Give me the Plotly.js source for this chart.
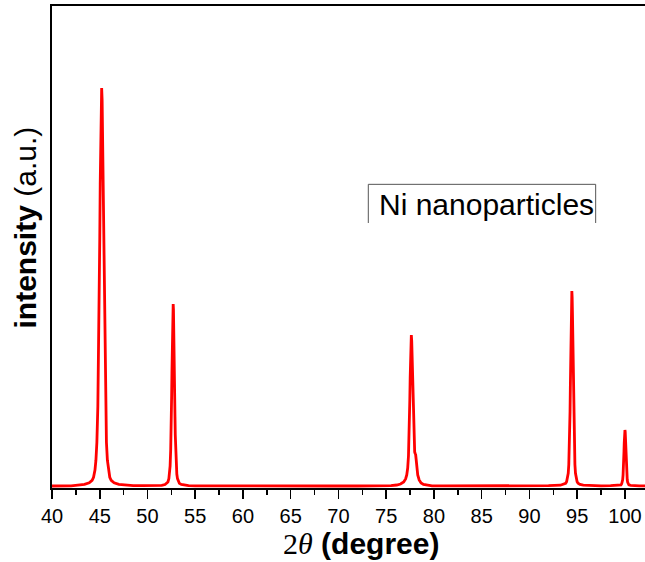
<!DOCTYPE html>
<html>
<head>
<meta charset="utf-8">
<script src="https://cdn.plot.ly/plotly-3.0.1.min.js"></script>
<style>html,body{margin:0;padding:0;background:#fff;}#chart{width:645px;height:562px;}</style>
</head>
<body>
<div id="chart"></div>
<script>
// 2-theta (degree) positions
const twoTheta = [
  40, 41, 42, 42.7, 43.4, 43.9, 44.2, 44.35, 44.5, 44.6, 44.7, 44.8, 44.85, 44.9, 44.95, 45.0, 45.05, 45.1, 45.15, 45.2,
  45.25, 45.3, 45.35, 45.4, 45.45, 45.5, 45.55, 45.6, 45.7, 45.8, 45.9, 46.05, 46.2, 46.5, 47.0, 47.7,
  48.5, 49.5, 50.5, 51.49, 51.84, 52.04, 52.14, 52.24, 52.31, 52.37, 52.43, 52.47, 52.5, 52.53, 52.56, 52.59, 52.625, 52.66, 52.69,
  52.72, 52.755, 52.79, 52.82, 52.85, 52.88, 52.91, 52.95, 53.01, 53.07, 53.14, 53.24, 53.34, 53.54, 53.89, 54.3,
  55, 57, 60, 63, 66, 69, 72, 74, 75.5, 76.1, 76.5, 76.83, 77.03, 77.15, 77.25, 77.33, 77.38, 77.43, 77.47, 77.51, 77.55, 77.59, 77.63,
  77.67, 77.71, 77.75, 77.79, 77.83, 77.88, 77.93, 77.98, 78.03, 78.08, 78.13, 78.2, 78.3, 78.45, 78.65, 78.9, 79.3, 79.8,
  81, 84, 87, 90, 92, 93.24, 93.59, 93.79, 93.89, 93.99, 94.06, 94.12, 94.18, 94.22, 94.25, 94.28, 94.31, 94.34, 94.375, 94.41, 94.44,
  94.47, 94.505, 94.54, 94.57, 94.6, 94.63, 94.66, 94.7, 94.76, 94.82, 94.89, 94.99, 95.09, 95.29, 95.64,
  96.5, 97.5, 98.5, 99.2, 99.51, 99.59, 99.66, 99.715, 99.76, 99.805, 99.835, 99.86, 99.88, 99.9, 99.925, 99.95, 99.975, 100.0,
  100.025, 100.05, 100.075, 100.1, 100.12, 100.14, 100.165, 100.195, 100.24, 100.285, 100.34, 100.41, 100.6, 101.0, 101.5, 102.1
];
// intensity (a.u.)
const intensity = [
  20, 19, 21, 28, 36, 52, 76, 107, 179, 278, 457, 815, 1130, 1530, 2005, 2480, 3040, 3510, 3880, 4000,
  3880, 3510, 3040, 2480, 2005, 1530, 1130, 815, 457, 278, 179, 107, 76, 52, 36, 28,
  24, 23, 24, 27, 35, 46, 60, 94, 140, 222, 385, 530, 710, 930, 1150, 1405, 1620, 1785, 1840,
  1785, 1620, 1405, 1150, 930, 710, 530, 385, 222, 140, 94, 60, 46, 35, 27, 24,
  21, 20, 19, 20, 19, 20, 20, 21, 23, 30, 40, 60, 90, 130, 200, 320, 460, 670, 880, 1110, 1330, 1490, 1530,
  1470, 1310, 1090, 870, 680, 500, 400, 360, 345, 335, 290, 210, 130, 80, 50, 35, 26, 22,
  21, 20, 20, 21, 23, 28, 36, 47, 63, 98, 147, 235, 410, 566, 761, 995, 1229, 1502, 1736, 1912, 1970,
  1912, 1736, 1502, 1229, 995, 761, 566, 410, 235, 147, 98, 63, 47, 36, 28,
  23, 22, 23, 28, 28, 32, 42, 56, 82, 132, 177, 233, 300, 367, 446, 513, 563, 580,
  563, 513, 446, 367, 300, 233, 177, 132, 82, 56, 42, 32, 27, 23, 22, 21
];
const xTitle = '<span style="font-family:\'Liberation Serif\',\'Times New Roman\',serif;font-weight:normal">2<i>θ</i></span> <b>(degree)</b>';
const yTitle = '<b>intensity</b> (a.u.)';
const sampleLabel = 'Ni nanoparticles';

const trace = {
  x: twoTheta, y: intensity, type: 'scatter', mode: 'lines',
  line: {color: '#ff0000', width: 2.8}, hoverinfo: 'skip'
};

const layout = {
  width: 645, height: 562,
  margin: {l: 52, r: 0, t: 6, b: 74},
  paper_bgcolor: '#fff', plot_bgcolor: '#fff',
  showlegend: false,
  font: {family: 'Arial, "Liberation Sans", sans-serif', color: '#000', size: 20},
  xaxis: {
    range: [40, 102.1], tick0: 40, dtick: 5, ticks: 'outside', ticklen: 9, tickwidth: 1.5,
    tickcolor: '#000', showline: true, linecolor: '#000', linewidth: 2, mirror: true,
    showgrid: false, zeroline: false,
    tickfont: {size: 20, color: '#000'},
    minor: {dtick: 2.5, ticks: 'outside', ticklen: 5, tickwidth: 1.5, tickcolor: '#000', showgrid: false}
  },
  yaxis: {
    range: [0, 4820], showticklabels: false, ticks: '', showline: true, linecolor: '#000',
    linewidth: 2, showgrid: false, zeroline: false
  },
  shapes: [{
    type: 'path', xref: 'paper', yref: 'paper',
    path: 'M 0.5334,0.5498 L 0.5334,0.630 L 0.9168,0.630 L 0.9168,0.5498',
    line: {color: '#555', width: 1}
  }],
  annotations: [
    {text: sampleLabel, xref: 'paper', yref: 'paper', x: 0.733, y: 0.589,
     xanchor: 'center', yanchor: 'middle', showarrow: false, font: {size: 30, color: '#000'}},
    {text: xTitle, xref: 'paper', yref: 'paper', x: 0.521, y: 0, yshift: -55,
     xanchor: 'center', yanchor: 'middle', showarrow: false, font: {size: 30, color: '#000'}},
    {text: yTitle, xref: 'paper', yref: 'paper', x: 0, xshift: -27, y: 0.5405,
     xanchor: 'center', yanchor: 'middle', textangle: -90, showarrow: false, font: {size: 30, color: '#000'}}
  ]
};

Plotly.newPlot('chart', [trace], layout, {displayModeBar: false, staticPlot: true});
</script>
</body>
</html>
